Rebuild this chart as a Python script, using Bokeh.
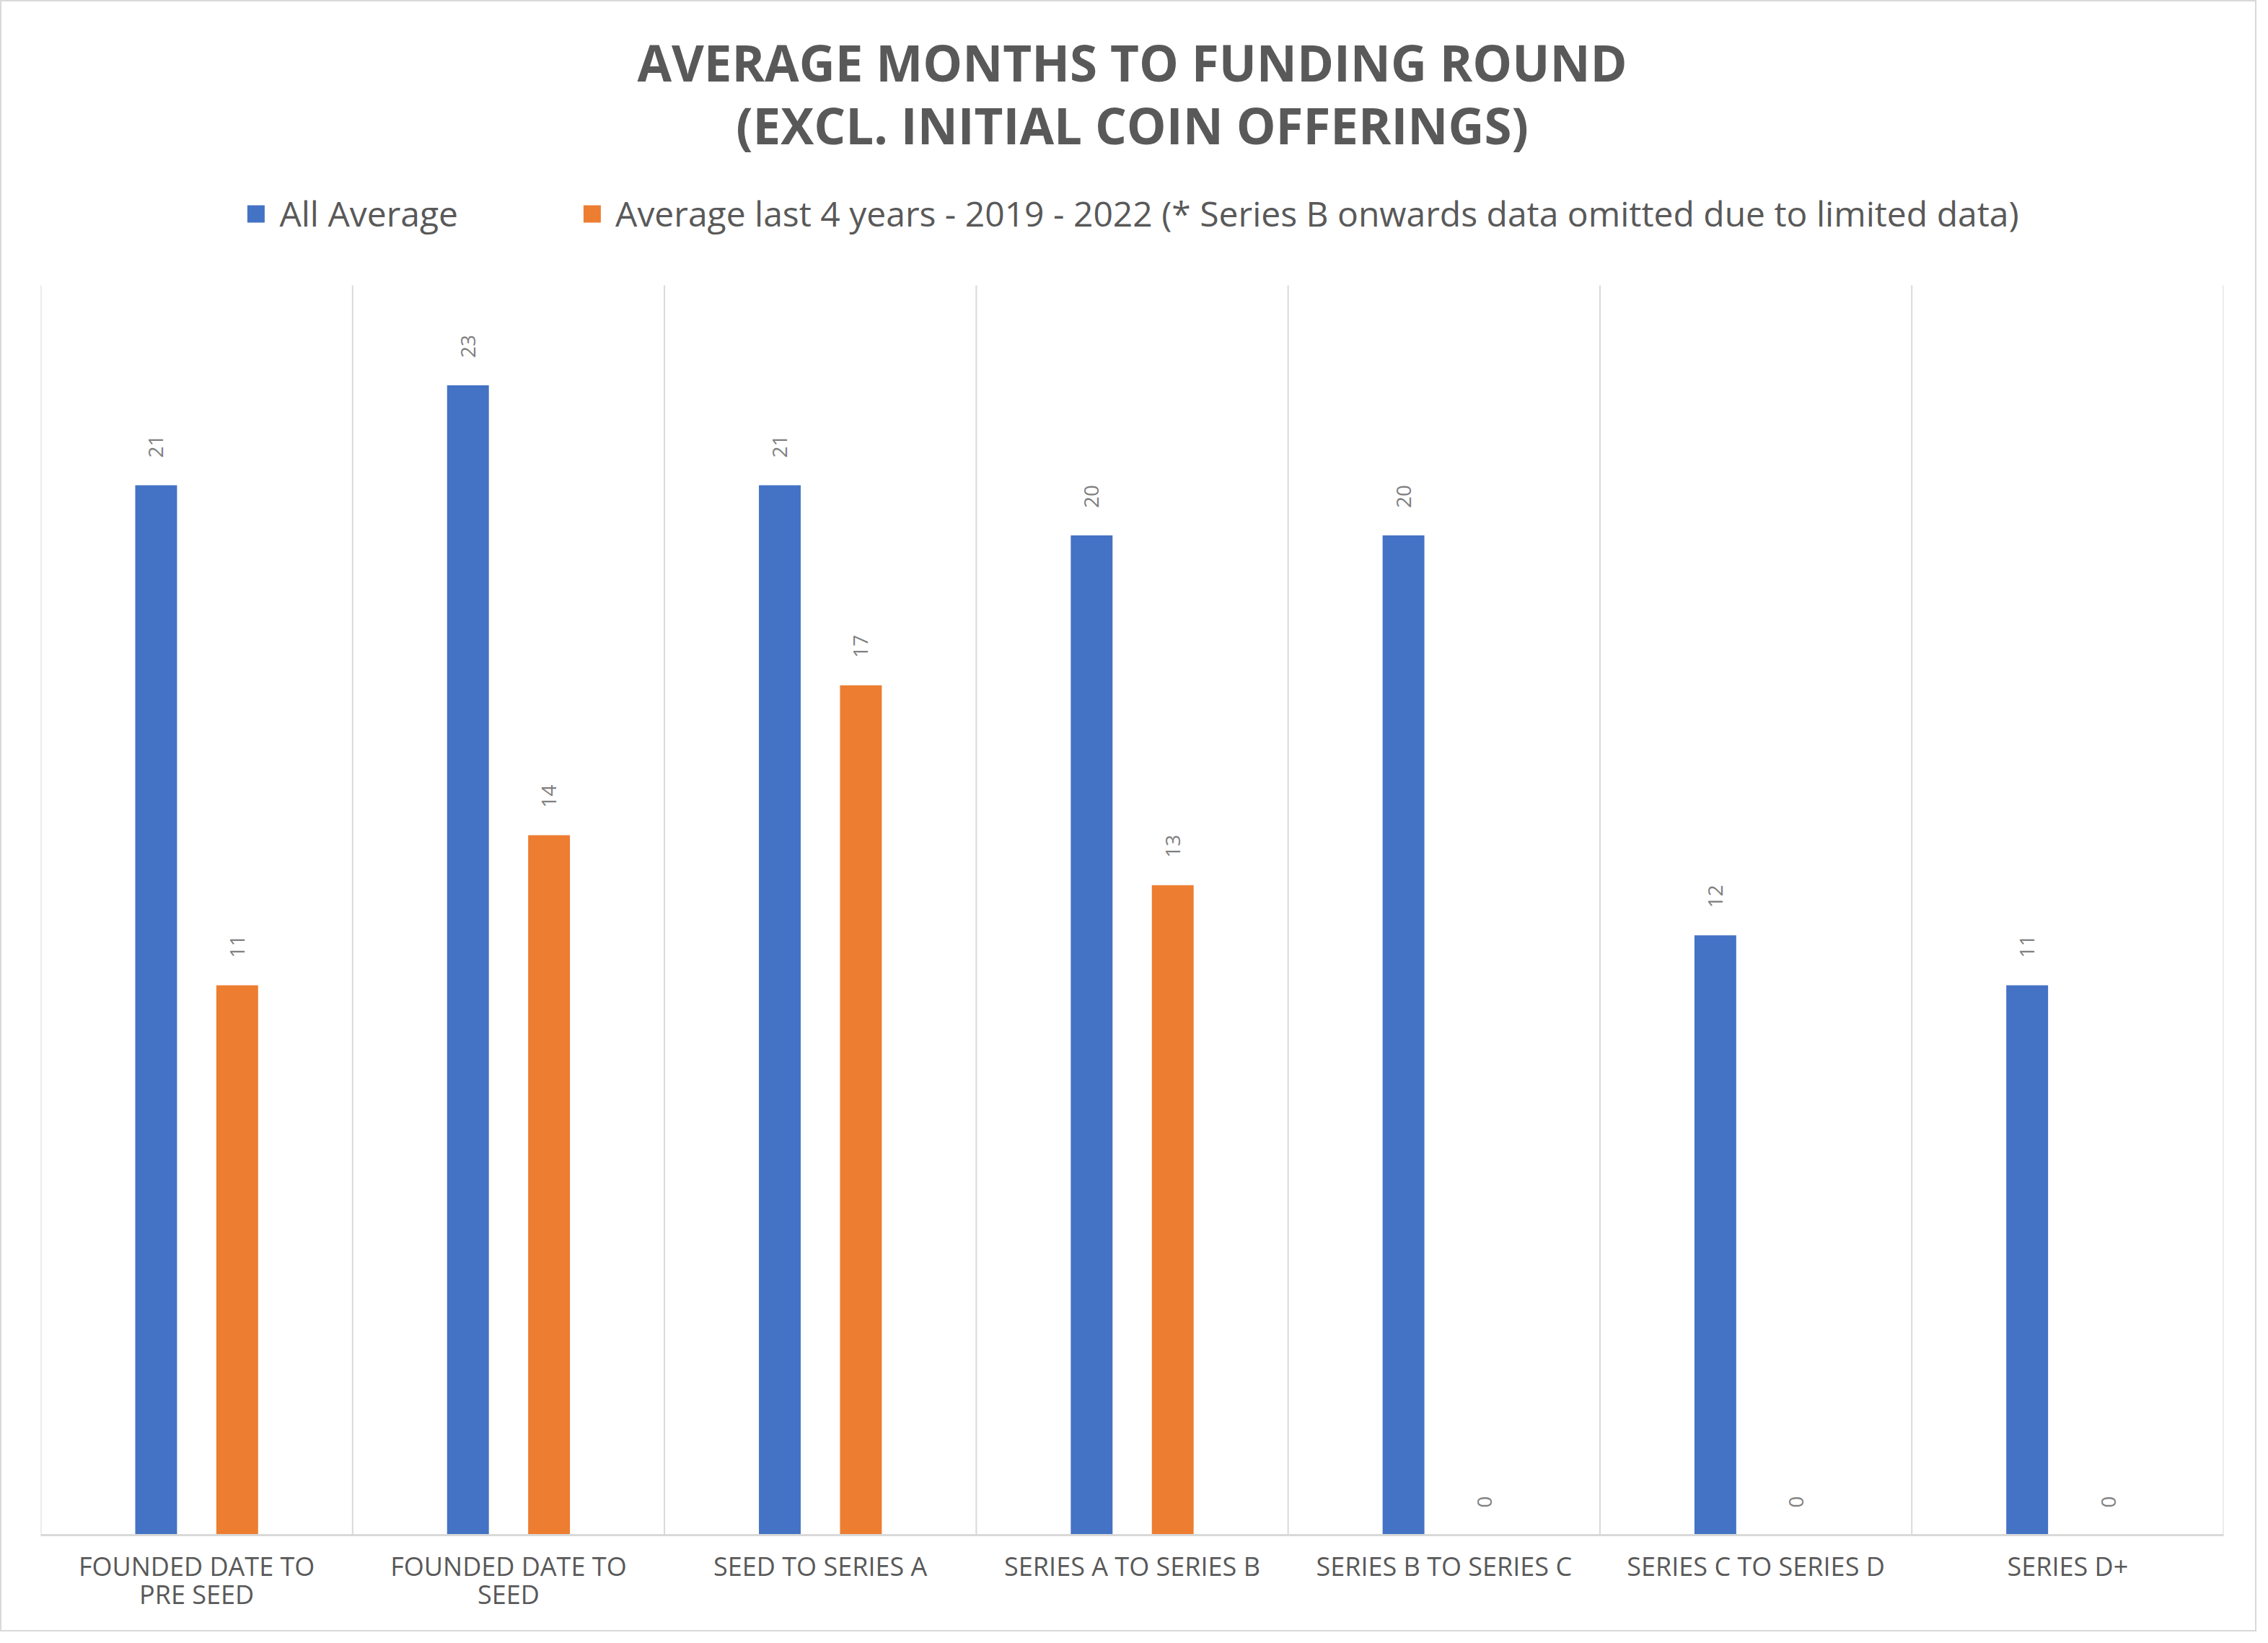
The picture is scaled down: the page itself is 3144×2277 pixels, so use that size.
import math
from bokeh.plotting import figure
from bokeh.models import (FactorRange, Range1d, ColumnDataSource, Legend, LegendItem,
                          Label)
from bokeh.transform import dodge
from bokeh.core.properties import value
from bokeh.embed import file_html
from bokeh.resources import INLINE

# ---------------- data ----------------
categories = [
    "FOUNDED DATE TO\nPRE SEED",
    "FOUNDED DATE TO\nSEED",
    "SEED TO SERIES A",
    "SERIES A TO SERIES B",
    "SERIES B TO SERIES C",
    "SERIES C TO SERIES D",
    "SERIES D+",
]
all_average = [21, 23, 21, 20, 20, 12, 11]
recent_average = [11, 14, 17, 13, 0, 0, 0]
series_names = [
    "All Average",
    "Average last 4 years - 2019 - 2022 (* Series B onwards data omitted due to limited data)",
]
title_lines = ["AVERAGE MONTHS TO FUNDING ROUND", "(EXCL. INITIAL COIN OFFERINGS)"]
y_max = 25

# ---------------- style / layout ----------------
BLUE = "#4472C4"
ORANGE = "#ED7D31"
TEXT = "#595959"
LABEL = "#7F7F7F"
GRID = "#D9D9D9"
FONT = "Open Sans"

W, H = 3128, 2261
B_LEFT, B_RIGHT, B_TOP, B_BOTTOM = 54, 48, 10, 136
frame_h = H - B_BOTTOM - B_TOP
chart_h = frame_h - 383             # pixel height used by 0..y_max
px_per_unit = chart_h / y_max
y_top = frame_h / px_per_unit       # extra room above the bars for title/legend


def y_from_top(px):
    """data y for a pixel distance measured from the top of the frame"""
    return (frame_h - px) / px_per_unit


src = ColumnDataSource(dict(
    cat=categories,
    all=all_average,
    recent=recent_average,
    all_lbl=[str(v) for v in all_average],
    recent_lbl=[str(v) for v in recent_average],
))

p = figure(
    x_range=FactorRange(factors=categories, range_padding=0, factor_padding=0),
    y_range=Range1d(0, y_top),
    width=W, height=H,
    output_backend="svg", toolbar_location=None, title=None,
    min_border_left=B_LEFT, min_border_right=B_RIGHT, min_border_top=B_TOP,
    min_border_bottom=B_BOTTOM,
)
p.styles = {"border": "2px solid #D9D9D9"}
p.outline_line_color = None
p.background_fill_color = "white"
p.border_fill_color = "white"
p.xgrid.visible = False
p.ygrid.visible = False
p.yaxis.visible = False

# vertical separators between categories (from 0 to the value-axis maximum)
bounds = list(range(len(categories) + 1))
p.segment(x0=bounds, x1=bounds, y0=[0] * len(bounds), y1=[y_max] * len(bounds),
          line_color=GRID, line_width=2)

off = 0.13
bw = 0.134
r1 = p.vbar(x=dodge("cat", -off, range=p.x_range), top="all", width=bw,
            source=src, fill_color=BLUE, line_color=None)
r2 = p.vbar(x=dodge("cat", off, range=p.x_range), top="recent", width=bw,
            source=src, fill_color=ORANGE, line_color=None)

for xoff, ycol, tcol in [(-off, "all", "all_lbl"), (off, "recent", "recent_lbl")]:
    p.text(x=dodge("cat", xoff, range=p.x_range), y=ycol, text=tcol, source=src,
           angle=math.pi / 2, text_align="left", text_baseline="middle",
           y_offset=-38, text_font=value(FONT), text_font_size="28px",
           text_color=LABEL)

ax = p.xaxis[0]
ax.axis_line_color = GRID
ax.axis_line_width = 3
ax.major_tick_line_color = None
ax.major_tick_in = 0
ax.major_tick_out = 0
ax.major_label_standoff = 18
ax.major_label_text_font = FONT
ax.major_label_text_font_size = "36px"
ax.major_label_text_color = TEXT
ax.major_label_text_line_height = 0.8

# titles
mid_x = len(categories) / 2
for txt, base_px in zip(title_lines, [73, 160]):
    p.add_layout(Label(x=mid_x, y=y_from_top(base_px), text=txt,
                       text_align="center", text_baseline="alphabetic",
                       text_font=FONT, text_font_style="bold",
                       text_font_size="69px", text_color=TEXT))

legend = Legend(
    items=[LegendItem(label=series_names[0], renderers=[r1]),
           LegendItem(label=series_names[1], renderers=[r2])],
    orientation="horizontal", location="top_center",
    label_text_font=FONT, label_text_font_size="48px", label_text_color=TEXT,
    glyph_width=30, glyph_height=30, label_standoff=18, spacing=170,
    padding=0, margin=251, border_line_color=None, background_fill_alpha=0,
)
p.add_layout(legend)

open("out.html", "w").write(file_html(p, INLINE))
